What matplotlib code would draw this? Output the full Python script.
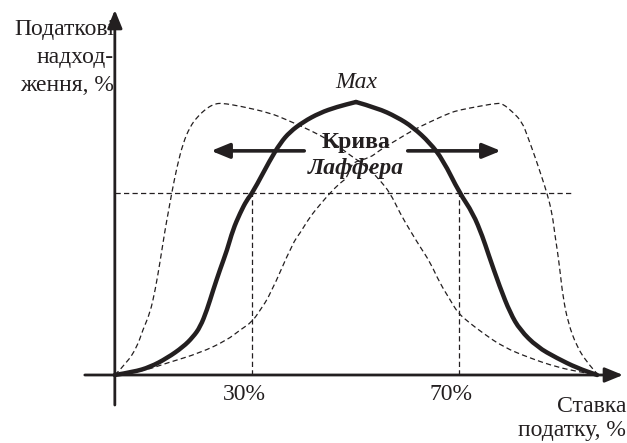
import matplotlib
matplotlib.use('Agg')
import matplotlib.pyplot as plt
from matplotlib.path import Path
from matplotlib.patches import PathPatch

INK = '#231f20'
plt.rcParams['font.family'] = ['Liberation Serif', 'DejaVu Serif']

# Laffer curve: tax rate (%) vs revenue (% of maximum), rising and falling branch
rise_x = [3.4, 7.0, 10.2, 13.5, 16.6, 18.5, 19.9, 21.2, 22.4, 23.7, 25.1, 26.2,
          27.6, 28.9, 30.0, 33.4, 35.4, 37.2, 39.8, 43.0, 46.3, 50.0]
rise_y = [0, 1.1, 2.9, 6.2, 10.3, 13.9, 17.6, 23.8, 31.1, 38.5, 45.8, 53.1,
          59.3, 64.1, 66.7, 78.8, 85.0, 89.0, 92.7, 96.0, 98.2, 100]
fall_x = [50.0, 54.1, 57.9, 61.0, 64.3, 66.8, 70.0, 72.6, 74.5, 75.5, 77.8,
          79.8, 81.7, 85.0, 88.8, 92.7, 96.6]
fall_y = [100, 97.8, 94.5, 90.8, 85.0, 78.8, 66.7, 59.3, 50.5, 44.7, 32.2,
          22.7, 16.5, 10.3, 6.2, 2.6, 0]

# curve that peaks at a low rate
early_x = [3.4, 5.7, 7.7, 8.8, 10.2, 11.2, 12.1, 13.1, 13.7, 14.4, 15.4, 16.6,
           17.9, 19.3, 21.2, 22.7, 24.1, 27.6, 33.4, 36.7, 39.8, 43.0, 46.3,
           48.8, 50.8, 52.7, 54.6, 56.6, 58.5, 60.4, 62.4, 64.3, 66.2, 68.2,
           69.7, 72.0, 74.5, 78.4, 83.6, 88.8, 93.3, 96.8]
early_y = [0, 4.4, 10.3, 16.5, 22.7, 31.1, 41.0, 53.1, 59.3, 66.7, 76.2, 85.0,
           90.8, 94.5, 97.8, 99.3, 99.6, 98.5, 96.0, 93.4, 90.8, 87.9, 84.2,
           80.6, 78.0, 75.1, 71.4, 66.7, 59.3, 53.1, 46.9, 41.4, 33.7, 27.5,
           22.7, 19.0, 15.4, 10.3, 6.2, 2.9, 1.1, 0]

# curve that peaks at a high rate
late_x = [3.4, 8.3, 13.5, 19.9, 25.1, 27.6, 29.9, 31.5, 33.4, 37.8, 39.2, 41.1,
          43.0, 45.0, 46.9, 48.3, 49.2, 52.7, 54.6, 57.9, 61.0, 64.3, 68.1,
          70.1, 74.0, 77.4, 78.4, 80.3, 82.1, 83.2, 84.6, 85.9, 86.9, 87.9,
          88.5, 88.9, 89.4, 90.0, 91.0, 92.7, 94.6, 96.8]
late_y = [0, 1.1, 4.4, 8.1, 12.8, 16.5, 19.4, 23.8, 29.3, 48.4, 52.0, 57.9,
          62.3, 66.7, 70.3, 72.2, 78.0, 79.5, 82.4, 86.1, 89.7, 92.7, 96.0,
          97.1, 98.5, 99.6, 99.3, 96.3, 92.7, 87.2, 79.9, 72.5, 66.7, 59.3,
          50.5, 45.8, 38.5, 28.6, 19.0, 10.3, 4.8, 0]

rate_marks = [30, 70]
rate_labels = ['30%', '70%']
revenue_level = 66.7
peak_rate = 50
peak_revenue = 100

axis_x0, axis_x1 = 3.4, 101.6   # x-axis span
axis_y0, axis_y1 = -11.0, 133.7  # y-axis span
arrow_y = 82.1
left_arrow = (40.0, 22.0)
right_arrow = (60.0, 78.0)


def smooth_path(xs, ys):
    # quadratic bezier through midpoints, the read points act as controls
    pts = list(zip(xs, ys))
    verts = [pts[0]]
    codes = [Path.MOVETO]
    for i in range(1, len(pts) - 1):
        mid = ((pts[i][0] + pts[i + 1][0]) / 2, (pts[i][1] + pts[i + 1][1]) / 2)
        verts += [pts[i], mid]
        codes += [Path.CURVE3, Path.CURVE3]
    verts.append(pts[-1])
    codes.append(Path.LINETO)
    return Path(verts, codes)


fig = plt.figure(figsize=(6.27, 4.43), dpi=100)
ax = fig.add_axes([0, 0, 1, 1])
ax.set_xlim(-18.79, 102.37)
ax.set_ylim(-24.91, 137.36)
ax.axis('off')

dash = dict(color=INK, lw=0.9, dashes=(4.2, 2.6))

# axes with arrowheads
axis_style = dict(arrowstyle='-|>,head_length=1.1,head_width=0.45', mutation_scale=10,
                  lw=2, color=INK, shrinkA=0, shrinkB=0)
ax.annotate('', xy=(axis_x1, 0), xytext=(-2.4, 0), arrowprops=axis_style)
ax.annotate('', xy=(axis_x0, axis_y1), xytext=(axis_x0, axis_y0), arrowprops=axis_style)

# reference level and the two rates that yield it
ax.plot([axis_x0, 91.5], [revenue_level, revenue_level], **dash)
for r in rate_marks:
    ax.plot([r, r], [0, revenue_level], **dash)
for r, lab in zip(rate_marks, rate_labels):
    ax.annotate(lab, xy=(r, 0), xytext=(-8, -20), textcoords='offset pixels',
                ha='center', va='center', fontsize=17, color=INK)

for xs, ys in [(early_x, early_y), (late_x, late_y)]:
    ax.add_patch(PathPatch(smooth_path(xs, ys), fill=False, edgecolor=INK,
                           lw=0.9, linestyle=(0, (4.2, 2.6))))
for xs, ys in [(rise_x, rise_y), (fall_x, fall_y)]:
    ax.add_patch(PathPatch(smooth_path(xs, ys), fill=False, edgecolor=INK,
                           lw=3.2, joinstyle='round', capstyle='round', zorder=5))

# shift arrows
shift_style = dict(arrowstyle='-|>,head_length=1.1,head_width=0.45', mutation_scale=10,
                   lw=2.6, color=INK, shrinkA=0, shrinkB=0)
ax.annotate('', xy=(left_arrow[1], arrow_y), xytext=(left_arrow[0], arrow_y),
            arrowprops=shift_style)
ax.annotate('', xy=(right_arrow[1], arrow_y), xytext=(right_arrow[0], arrow_y),
            arrowprops=shift_style)

ax.text(peak_rate, peak_revenue + 7.3, 'Max', ha='center', va='center',
        fontsize=17, style='italic', color=INK)
ax.text(peak_rate, 85.3, 'Крива', ha='center', va='center', fontsize=17,
        fontweight='bold', color=INK, zorder=6)
ax.text(peak_rate, 75.5, 'Лаффера', ha='center', va='center', fontsize=17,
        fontweight='bold', style='italic', color=INK, zorder=6)

# axis titles
W, H = 627, 443
for txt, base in [('Податкові', 35), ('надход-', 63), ('ження, %', 91)]:
    fig.text(114 / W, 1 - base / H, txt, ha='right', va='baseline',
             fontsize=17, color=INK)
for txt, base in [('Ставка', 412), ('податку, %', 436)]:
    fig.text(626 / W, 1 - base / H, txt, ha='right', va='baseline',
             fontsize=17, color=INK)

fig.savefig('out.png', dpi=100)
